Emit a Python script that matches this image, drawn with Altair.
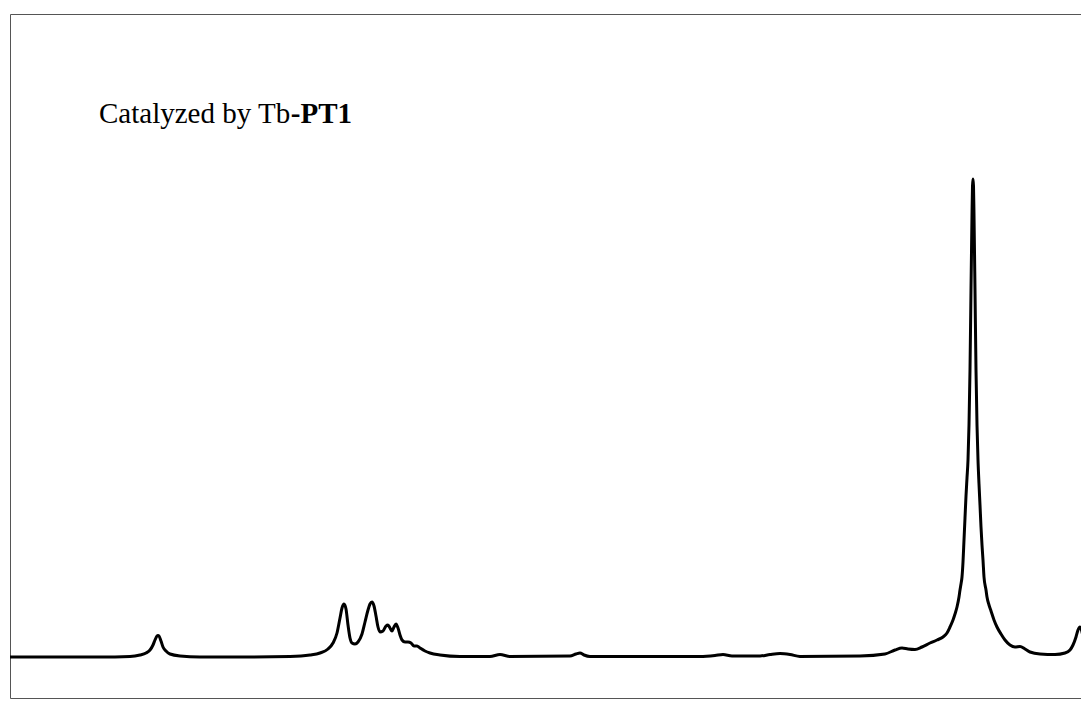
import altair as alt
import pandas as pd

# Spectrum trace: shift position (arbitrary units, left to right) and intensity
shift = [10, 60, 100, 130, 140, 146, 150, 153, 155, 157, 158, 159, 161, 163, 166, 170, 180, 200,
         250, 290, 310, 320, 328, 333, 337, 340, 342, 344, 346, 348, 350, 352, 355, 358, 362, 365,
         368, 370, 372, 374, 376, 378, 380, 383, 386, 388, 390, 392, 394, 396, 398, 400, 402, 405,
         408, 411, 414, 417, 420, 425, 430, 440, 460, 490, 500, 510, 570, 576, 580, 584, 590, 700,
         715, 723, 732, 760, 770, 780, 790, 800, 860, 885, 895, 902, 908, 915, 922, 930, 937, 943,
         947, 950, 953, 955, 957, 959, 960, 961, 962, 963, 964, 965, 966, 967, 968, 969, 970, 971,
         972, 972.5, 973, 973.5, 974, 975, 976, 977, 978, 979, 980, 981, 982, 983, 984, 986, 987,
         989, 991, 994, 997, 1001, 1005, 1010, 1015, 1020, 1025, 1030, 1040, 1055, 1065, 1070,
         1073, 1076, 1078, 1080, 1082, 1084, 1086, 1089]
pix = [657, 657, 657, 656.5, 655, 653, 650, 645, 640, 636, 635.5, 636, 641, 647, 651, 654, 656, 657,
       657, 656.5, 655, 653, 649, 643, 633, 618, 608, 604, 609, 625, 638, 643, 644, 642, 634, 622,
       610, 604, 602, 606, 616, 627, 632, 631, 626, 625, 628, 631, 627, 624, 628, 635, 640, 642,
       642, 643, 646, 646, 648, 651, 653, 655, 656.5, 656.5, 654.5, 656.5, 656, 654, 653, 655, 656.5, 656.5,
       655.5, 654.5, 656, 656, 654.5, 653.5, 654.5, 656.5, 656, 654, 650, 648, 649, 649.5, 647, 643, 640, 637,
       633, 627, 620, 614, 607, 597, 590, 584, 577, 562, 540, 518, 496, 478, 460, 425, 370, 290,
       215, 186, 179, 186, 215, 290, 370, 425, 460, 484, 505, 527, 545, 560, 577, 590, 597,
       605, 611, 620, 627, 634, 640, 645, 647, 646.5, 649, 652, 654, 654.5, 653, 650,
       645, 637, 630, 627, 632, 641, 647, 650]
intensity = [657 - p for p in pix]

label_normal = ["Catalyzed by Tb"]
label_bold = ["-PT1"]

df = pd.DataFrame({"shift": shift, "intensity": intensity, "order": list(range(len(shift)))})

W, H = 1079, 684

line = alt.Chart(df).mark_line(color="black", strokeWidth=3, interpolate="monotone", clip=True).encode(
    x=alt.X("shift:Q", scale=alt.Scale(domain=[10, 1089], nice=False, zero=False), axis=None),
    y=alt.Y("intensity:Q", scale=alt.Scale(domain=[-41, 643], nice=False, zero=False), axis=None),
    order="order:Q",
)

t1 = alt.Chart(pd.DataFrame({"t": label_normal})).mark_text(
    font="Liberation Serif", fontSize=29, align="left", baseline="alphabetic", color="black"
).encode(text="t:N", x=alt.value(89), y=alt.value(109))

t2 = alt.Chart(pd.DataFrame({"t": label_bold})).mark_text(
    font="Liberation Serif", fontSize=29, fontWeight="bold", align="right", baseline="alphabetic", color="black"
).encode(text="t:N", x=alt.value(342), y=alt.value(109))

chart = alt.layer(line, t1, t2).properties(
    width=W, height=H,
    background="white",
    padding={"left": 2, "top": 6, "right": -8, "bottom": 1},
    autosize=alt.AutoSizeParams(type="none"),
).configure_view(stroke="#555555", strokeWidth=1)

chart.save("out.html", embed_options={"renderer": "svg", "actions": False})
